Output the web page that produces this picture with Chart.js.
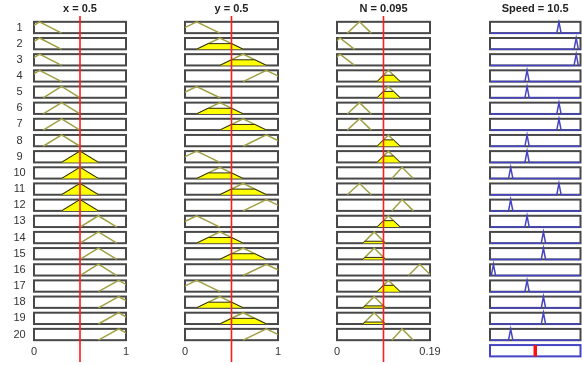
<!DOCTYPE html>
<html>
<head>
<meta charset="utf-8">
<script src="https://cdn.jsdelivr.net/npm/chart.js@4.4.0/dist/chart.umd.min.js"></script>
<style>
  body { margin: 0; background: #fff; }
  #wrap { position: relative; width: 582px; height: 365px; }
  #wrap canvas { position: absolute; left: 0; top: 0; }
</style>
</head>
<body>
<div id="wrap">
  <canvas id="cX" width="582" height="365"></canvas>
  <canvas id="cY" width="582" height="365"></canvas>
  <canvas id="cN" width="582" height="365"></canvas>
  <canvas id="cS" width="582" height="365"></canvas>
</div>
<script>
// input / output variables
const inputNames = ["x", "y", "N"];
const inputValues = [0.5, 0.5, 0.095];
const inputRanges = [[0, 1], [0, 1], [0, 0.19]];
const rangeTickLabels = [["0", "1"], ["0", "1"], ["0", "0.19"]];
const outputName = "Speed";
const outputValue = 10.5;
const outputRange = [0, 21];

// membership functions (trimf a, b, c)
const xMfs = [[-0.13, 0.06, 0.3], [0.1, 0.3, 0.5], [0.3, 0.5, 0.7], [0.5, 0.7, 0.9], [0.7, 0.92, 1.14]];
const yMfs = [[-0.125, 0.125, 0.375], [0.125, 0.375, 0.625], [0.375, 0.625, 0.875], [0.625, 0.875, 1.125]];
const nMfs = [[-0.019, 0.006, 0.036], [0.021, 0.046, 0.07], [0.053, 0.076, 0.099],
              [0.082, 0.105, 0.129], [0.112, 0.133, 0.156], [0.146, 0.169, 0.192]];
const speedMfs = [[0.3, 0.8, 1.3], [4.3, 4.8, 5.3], [8.1, 8.6, 9.1],
                  [11.9, 12.4, 12.9], [15.5, 16, 16.5], [19.5, 20, 20.5]];

// rule table (index of MF for each rule)
const ruleLabels = ["1","2","3","4","5","6","7","8","9","10","11","12","13","14","15","16","17","18","19","20"];
const ruleX = [1,1,1,1,2,2,2,2,3,3,3,3,4,4,4,4,5,5,5,5];
const ruleY = [1,2,3,4,1,2,3,4,1,2,3,4,1,2,3,4,1,2,3,4];
const ruleN = [2,1,1,4,4,2,2,4,4,5,2,5,4,3,3,6,4,3,3,5];
const ruleSpeed = [5,6,6,3,3,5,5,3,3,2,5,2,3,4,4,1,3,4,4,2];

const H = 0.35; // half height of a rule box in row units
const FONT = "'Liberation Sans', Arial, sans-serif";

function trimf(v, p) {
   if (v <= p[0] || v >= p[2]) return 0;
   if (v <= p[1]) return (v - p[0]) / (p[1] - p[0]);
   return (p[2] - v) / (p[2] - p[1]);
}

//vẽ khung của từng rule
const framePlugin = {
   id: "frames",
   beforeDatasetsDraw(chart) {
      const cfg = chart.options.plugins.frames;
      const xs = chart.scales.x, ys = chart.scales.y;
      const ctx = chart.ctx;
      const l = xs.getPixelForValue(xs.min), r = xs.getPixelForValue(xs.max);
      ctx.save();
      for (let i = 1; i <= cfg.rows; i++) {
         const t = ys.getPixelForValue(i - H), b = ys.getPixelForValue(i + H);
         ctx.fillStyle = "#fff";
         ctx.fillRect(l, t, r - l, b - t);
         ctx.strokeStyle = (cfg.blueLast && i == cfg.rows) ? "#4444c4" : "#484848";
         ctx.lineWidth = 2;
         ctx.strokeRect(l, t, r - l, b - t);
      }
      ctx.restore();
   },
   afterDraw(chart) {
      const cfg = chart.options.plugins.frames;
      const xs = chart.scales.x, ys = chart.scales.y;
      const ctx = chart.ctx;
      ctx.save();
      ctx.fillStyle = "#222";
      ctx.textAlign = "center";
      ctx.textBaseline = "middle";
      ctx.font = "bold 11px " + FONT;
      ctx.fillText(cfg.title, (chart.chartArea.left + chart.chartArea.right) / 2, 9);
      ctx.font = "11px " + FONT;
      ctx.fillStyle = "#333";
      if (cfg.ticks) {
         ctx.fillText(cfg.ticks[0], xs.getPixelForValue(xs.min), 352);
         ctx.fillText(cfg.ticks[1], xs.getPixelForValue(xs.max), 352);
      }
      if (cfg.rowLabels) {
         cfg.rowLabels.forEach(function (lab, i) {
            ctx.fillText(lab, 19.5, ys.getPixelForValue(i + 1));
         });
      }
      ctx.restore();
   },
};

function inputDatasets(mfs, rule, value, range) {
   var vSets = [];
   rule.forEach(function (m, i) {
      const row = i + 1;
      const p = mfs[m - 1];
      const mu = trimf(value, p);
      if (mu > 0) {
         const lv = row + H - 2 * H * mu;
         vSets.push({
            data: [
               { x: p[0], y: row + H },
               { x: p[0] + mu * (p[1] - p[0]), y: lv },
               { x: p[2] - mu * (p[2] - p[1]), y: lv },
               { x: p[2], y: row + H },
            ],
            borderColor: "#2a2a10",
            borderWidth: 1,
            backgroundColor: "#ffff00",
            fill: { value: row + H },
            order: 2,
         });
      }
      vSets.push({
         data: [
            { x: p[0], y: row + H },
            { x: p[1], y: row - H },
            { x: p[2], y: row + H },
         ],
         borderColor: "#a0a044",
         borderWidth: 1.5,
         fill: false,
         order: 3,
      });
   });
   // đường giá trị đầu vào
   vSets.push({
      data: [{ x: value, y: 0.29 }, { x: value, y: 21.7 }],
      borderColor: "#ff1c1c",
      borderWidth: 1.6,
      clip: false,
      order: 1,
   });
   return vSets;
}

function outputDatasets() {
   var vSets = [];
   ruleSpeed.forEach(function (m, i) {
      const row = i + 1;
      const p = speedMfs[m - 1];
      vSets.push({
         data: [
            { x: outputRange[0], y: row + H },
            { x: p[0], y: row + H },
            { x: p[1], y: row - H },
            { x: p[2], y: row + H },
            { x: outputRange[1], y: row + H },
         ],
         borderColor: "#4444c4",
         borderWidth: 1.5,
         fill: false,
      });
   });
   vSets.push({
      data: [{ x: outputValue, y: 21 - H }, { x: outputValue, y: 21 + H }],
      borderColor: "#ff1010",
      borderWidth: 3.5,
   });
   return vSets;
}

function makeChart(id, datasets, range, yMax, pad, frames) {
   return new Chart(document.getElementById(id), {
      type: "line",
      data: { datasets: datasets },
      options: {
         responsive: false,
         animation: false,
         elements: { point: { radius: 0 }, line: { tension: 0 } },
         layout: { padding: pad },
         scales: {
            x: { type: "linear", min: range[0], max: range[1], display: false },
            y: { type: "linear", min: 0.5, max: yMax, reverse: true, display: false },
         },
         plugins: { legend: { display: false }, tooltip: { enabled: false }, frames: frames },
      },
      plugins: [framePlugin],
   });
}

const inMfs = [xMfs, yMfs, nMfs];
const inRules = [ruleX, ruleY, ruleN];
const ids = ["cX", "cY", "cN"];
const pads = [
   { left: 34, right: 456, top: 19.4, bottom: 22.4 },
   { left: 185, right: 304, top: 19.4, bottom: 22.4 },
   { left: 337, right: 152, top: 19.4, bottom: 22.4 },
];

for (let k = 0; k < 3; k++) {
   makeChart(ids[k], inputDatasets(inMfs[k], inRules[k], inputValues[k], inputRanges[k]),
      inputRanges[k], 20.5, pads[k], {
         rows: 20,
         title: inputNames[k] + " = " + inputValues[k],
         ticks: rangeTickLabels[k],
         rowLabels: k == 0 ? ruleLabels : null,
      });
}

makeChart("cS", outputDatasets(), outputRange, 21.5,
   { left: 490, right: 1.5, top: 19.4, bottom: 6.2 }, {
      rows: 21,
      blueLast: true,
      title: outputName + " = " + outputValue,
      ticks: null,
      rowLabels: null,
   });
</script>
</body>
</html>
